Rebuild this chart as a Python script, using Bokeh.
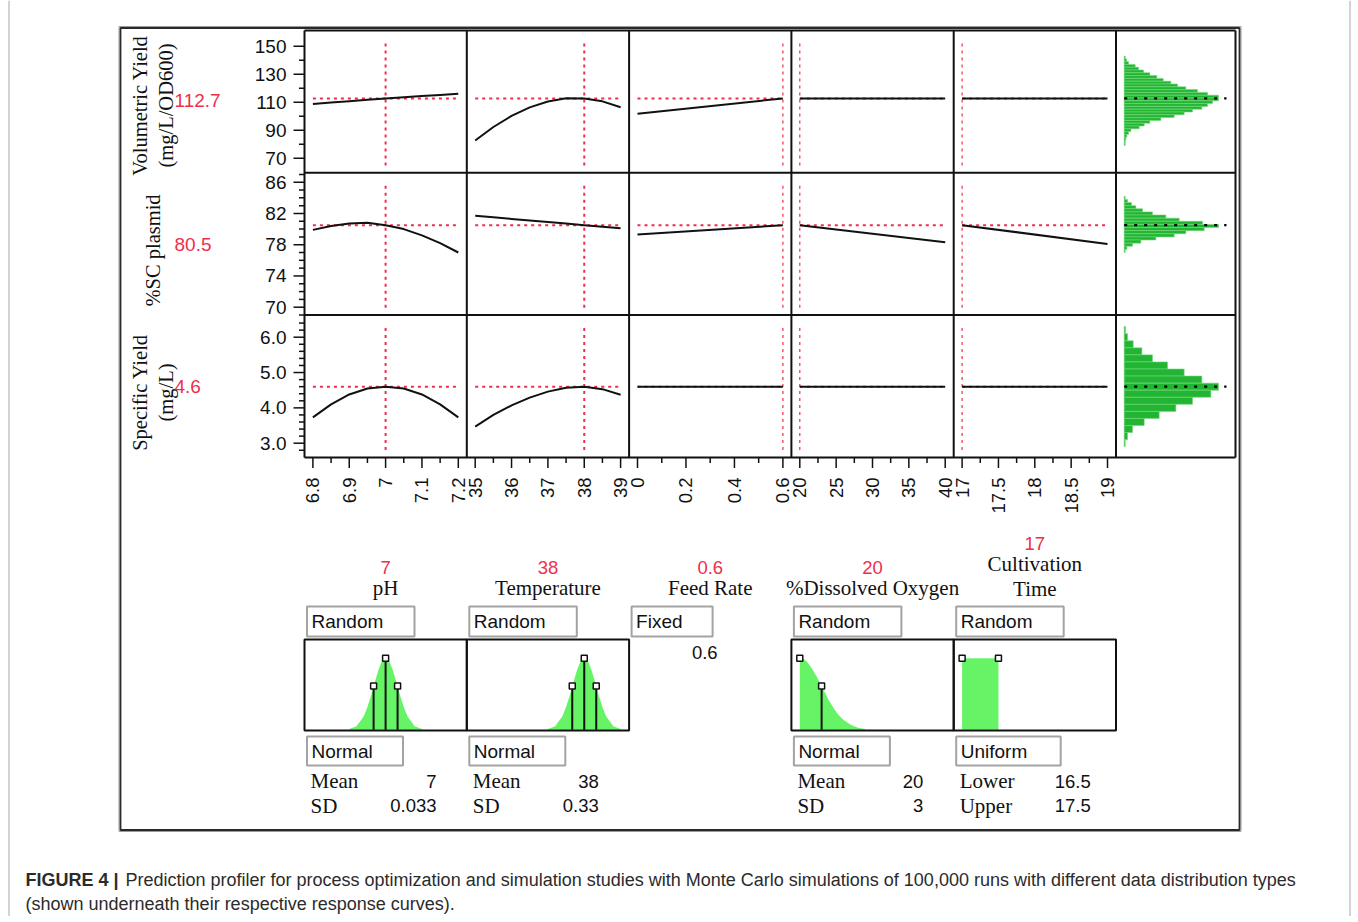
import math
from bokeh.plotting import figure
from bokeh.models import Range1d
from bokeh.core.properties import value
from bokeh.embed import file_html
from bokeh.resources import INLINE

# ------------------------------------------------------------------ data
factor_names = [["pH"], ["Temperature"], ["Feed Rate"], ["%Dissolved Oxygen"], ["Cultivation", "Time"]]
factor_current = [7, 38, 0.6, 20, 17]
factor_current_text = ["7", "38", "0.6", "20", "17"]
factor_low = [6.8, 35, 0, 20, 17]
factor_high = [7.2, 39, 0.6, 40, 19]

response_names = [["Volumetric Yield", "(mg/L/OD600)"], ["%SC plasmid"], ["Specific Yield", "(mg/L)"]]
predicted = [112.7, 80.5, 4.6]
predicted_text = ["112.7", "80.5", "4.6"]

x_major = [[6.8, 6.9, 7.0, 7.1, 7.2], [35, 36, 37, 38, 39], [0, 0.2, 0.4, 0.6],
           [20, 25, 30, 35, 40], [17, 17.5, 18, 18.5, 19]]
x_major_text = [["6.8", "6.9", "7", "7.1", "7.2"], ["35", "36", "37", "38", "39"],
                ["0", "0.2", "0.4", "0.6"], ["20", "25", "30", "35", "40"],
                ["17", "17.5", "18", "18.5", "19"]]
x_minor = [[6.85, 6.95, 7.05, 7.15], [35.5, 36.5, 37.5, 38.5], [0.1, 0.3, 0.5],
           [22.5, 27.5, 32.5, 37.5], [17.25, 17.75, 18.25, 18.75]]

y_major = [[70, 90, 110, 130, 150], [70, 74, 78, 82, 86], [3.0, 4.0, 5.0, 6.0]]
y_major_text = [["70", "90", "110", "130", "150"], ["70", "74", "78", "82", "86"],
                ["3.0", "4.0", "5.0", "6.0"]]
y_minor = [[80, 100, 120, 140],
           [69, 71, 72, 73, 75, 76, 77, 79, 80, 81, 83, 84, 85, 87],
           [2.8, 3.2, 3.4, 3.6, 3.8, 4.2, 4.4, 4.6, 4.8, 5.2, 5.4, 5.6, 5.8, 6.2, 6.4]]

# profile curves (response vs factor)
ph_x = [6.8, 6.85, 6.9, 6.95, 7.0, 7.05, 7.1, 7.15, 7.2]
ph_vol = [108.7, 109.7, 110.7, 111.7, 112.7, 113.6, 114.4, 115.2, 116.0]
ph_sc = [79.9, 80.4, 80.7, 80.8, 80.5, 80.0, 79.2, 78.2, 77.0]
ph_spec = [3.73, 4.10, 4.38, 4.55, 4.60, 4.55, 4.38, 4.10, 3.73]

temp_x = [35, 35.5, 36, 36.5, 37, 37.5, 38, 38.5, 39]
temp_vol = [82.6, 92.3, 100.2, 106.3, 110.5, 112.8, 112.7, 110.6, 106.4]
temp_sc = [81.7, 81.5, 81.3, 81.1, 80.9, 80.7, 80.5, 80.3, 80.1]
temp_spec = [3.47, 3.80, 4.07, 4.29, 4.46, 4.57, 4.60, 4.53, 4.37]

feed_x = [0, 0.6]
feed_vol = [101.8, 112.7]
feed_sc = [79.3, 80.5]
feed_spec = [4.6, 4.6]

do_x = [20, 40]
do_vol = [112.7, 112.7]
do_sc = [80.5, 78.3]
do_spec = [4.6, 4.6]

time_x = [17, 19]
time_vol = [112.7, 112.7]
time_sc = [80.5, 78.1]
time_spec = [4.6, 4.6]

# simulated response histograms (bin centre, relative count)
vol_bins = [142, 140, 138, 136, 134, 132, 130, 128, 126, 124, 122, 120, 118, 116, 114, 112,
            110, 108, 106, 104, 102, 100, 98, 96, 94, 92, 90, 88, 86, 84, 82, 80]
vol_counts = [3, 7, 13, 33, 43, 58, 77, 98, 117, 140, 160, 185, 220, 250, 283, 283,
              265, 250, 233, 205, 180, 150, 110, 77, 60, 45, 20, 13, 8, 5, 3, 3]
sc_bins = [84.0, 83.6, 83.2, 82.8, 82.4, 82.0, 81.6, 81.2, 80.8, 80.4, 80.0, 79.6, 79.2,
           78.8, 78.4, 78.0, 77.6, 77.2]
sc_counts = [3, 10, 22, 35, 55, 85, 125, 165, 235, 283, 240, 185, 150, 95, 50, 25, 8, 3]
spec_bins = [6.2, 6.0, 5.8, 5.6, 5.4, 5.2, 5.0, 4.8, 4.6, 4.4, 4.2, 4.0, 3.8, 3.6, 3.4, 3.2, 3.0]
spec_counts = [4, 10, 27, 53, 85, 130, 180, 233, 283, 260, 205, 155, 105, 60, 25, 10, 3]
hist_bin_width = [2, 0.4, 0.2]

# factor input distributions (x, relative density)
ph_dist_x = [6.90, 6.92, 6.94, 6.95, 6.96, 6.97, 6.98, 6.99, 7.00, 7.01, 7.02, 7.03, 7.04,
             7.05, 7.06, 7.08, 7.10]
ph_dist_h = [0.01, 0.05, 0.19, 0.32, 0.48, 0.66, 0.83, 0.96, 1.00, 0.96, 0.83, 0.66, 0.48,
             0.32, 0.19, 0.05, 0.01]
ph_marks_x = [6.967, 7.0, 7.033]
ph_marks_h = [0.61, 1.0, 0.61]

temp_dist_x = [37.0, 37.2, 37.4, 37.5, 37.6, 37.7, 37.8, 37.9, 38.0, 38.1, 38.2, 38.3, 38.4,
               38.5, 38.6, 38.8, 39.0]
temp_dist_h = [0.01, 0.05, 0.19, 0.32, 0.48, 0.66, 0.83, 0.96, 1.00, 0.96, 0.83, 0.66, 0.48,
               0.32, 0.19, 0.05, 0.01]
temp_marks_x = [37.67, 38.0, 38.33]
temp_marks_h = [0.61, 1.0, 0.61]

do_dist_x = [20, 20.5, 21, 21.5, 22, 22.5, 23, 23.5, 24, 24.5, 25, 25.5, 26, 27, 28, 29]
do_dist_h = [1.0, 0.99, 0.95, 0.88, 0.80, 0.71, 0.61, 0.51, 0.41, 0.33, 0.25, 0.19, 0.14,
             0.07, 0.03, 0.01]
do_marks_x = [20, 23]
do_marks_h = [1.0, 0.61]

time_lower = 16.5
time_upper = 17.5

sim_mode = ["Random", "Random", "Fixed", "Random", "Random"]
dist_type = ["Normal", "Normal", "", "Normal", "Uniform"]
param_names = [["Mean", "SD"], ["Mean", "SD"], [], ["Mean", "SD"], ["Lower", "Upper"]]
param_values = [["7", "0.033"], ["38", "0.33"], [], ["20", "3"], ["16.5", "17.5"]]

caption_bold = "FIGURE 4 |"
caption_1 = ("Prediction profiler for process optimization and simulation studies with Monte "
             "Carlo simulations of 100,000 runs with different data distribution types")
caption_2 = "(shown underneath their respective response curves)."

# ------------------------------------------------------------------ layout / style
W, H = 1352, 916
SANS = value("Liberation Sans")
SERIF = value("Liberation Serif")
RED = "#ee2f4b"
GREEN_H = "#22b533"
GREEN_D = "#66f466"
INK = "#111111"

COL_L = [304, 466.3, 628.6, 790.9, 953.2]
COL_W = 162.3
HIST_R = 1235
ROW_T = [30, 172.2, 314.5]
ROW_B = [172.2, 314.5, 457]
ROW_ANCHOR = [(70, 157.7, 150, 45.7), (70, 306.7, 86, 181.7), (3.0, 442.7, 6.0, 336.7)]

p = figure(width=W, height=H, x_range=Range1d(0, W), y_range=Range1d(H, 0),
           output_backend="svg", toolbar_location=None, x_axis_type=None,
           y_axis_type=None, min_border=0, title=None)
p.outline_line_color = None
p.background_fill_color = "white"
p.border_fill_color = "white"


def add_xr(name, v0, px0, v1, px1):
    k = (px1 - px0) / (v1 - v0)
    s = v0 - px0 / k
    p.extra_x_ranges[name] = Range1d(s, s + W / k)


def add_yr(name, v0, py0, v1, py1):
    k = (py0 - py1) / (v1 - v0)
    s = v0 - (H - py0) / k
    p.extra_y_ranges[name] = Range1d(s, s + H / k)


for ci in range(5):
    add_xr(f"x{ci}", factor_low[ci], COL_L[ci] + 8.4, factor_high[ci], COL_L[ci] + 153.8)
for ri in range(3):
    v0, py0, v1, py1 = ROW_ANCHOR[ri]
    add_yr(f"y{ri}", v0, py0, v1, py1)
add_xr("hx", 0, 1123.7, 283, 1218)
add_yr("yd", 0, 729.3, 1, 657.7)

# outer page frame
p.segment(x0=[8.5, 1349.5], x1=[8.5, 1349.5], y0=0, y1=H, line_color="#c4c4c4", line_width=1.5)
# chart frame
p.quad(left=118.5, right=1240.5, top=26, bottom=831, fill_color=None, line_color="#9a9a9a", line_width=1)
p.quad(left=120, right=1239, top=27.5, bottom=829.5, fill_color=None, line_color="#2a2a2a", line_width=1.8)

# ---- profiler grid
profiles = {
    (0, 0): (ph_x, ph_vol), (0, 1): (ph_x, ph_sc), (0, 2): (ph_x, ph_spec),
    (1, 0): (temp_x, temp_vol), (1, 1): (temp_x, temp_sc), (1, 2): (temp_x, temp_spec),
    (2, 0): (feed_x, feed_vol), (2, 1): (feed_x, feed_sc), (2, 2): (feed_x, feed_spec),
    (3, 0): (do_x, do_vol), (3, 1): (do_x, do_sc), (3, 2): (do_x, do_spec),
    (4, 0): (time_x, time_vol), (4, 1): (time_x, time_sc), (4, 2): (time_x, time_spec),
}

for ri in range(3):
    yn = f"y{ri}"
    for ci in range(5):
        xn = f"x{ci}"
        vw = 2 if ci < 2 else 1.2
        p.segment(x0=factor_current[ci], x1=factor_current[ci], y0=ROW_T[ri] + 13, y1=ROW_B[ri] - 7,
                  x_range_name=xn, line_color=RED, line_width=vw, line_dash="3 4")
        p.segment(x0=factor_low[ci], x1=factor_high[ci], y0=predicted[ri], y1=predicted[ri],
                  x_range_name=xn, y_range_name=yn, line_color=RED, line_width=2, line_dash="3 4")
        xs, ys = profiles[(ci, ri)]
        p.line(xs, ys, x_range_name=xn, y_range_name=yn, line_color=INK, line_width=2)

# histograms
hists = [(vol_bins, vol_counts), (sc_bins, sc_counts), (spec_bins, spec_counts)]
for ri in range(3):
    yn = f"y{ri}"
    b, c = hists[ri]
    p.hbar(y=b, height=hist_bin_width[ri], left=0, right=c, x_range_name="hx", y_range_name=yn,
           fill_color=GREEN_H, line_color="#74d97a", line_width=0.6)
    p.segment(x0=1123.7, x1=1226, y0=predicted[ri], y1=predicted[ri], y_range_name=yn,
              line_color="black", line_width=2.2, line_dash="3 7")

# grid lines
p.segment(x0=304, x1=HIST_R, y0=[30, 172.2, 314.5, 457], y1=[30, 172.2, 314.5, 457],
          line_color=INK, line_width=2)
vx = COL_L + [COL_L[4] + COL_W, HIST_R]
p.segment(x0=vx, x1=vx, y0=30, y1=457, line_color=INK, line_width=2)

# y axes
for ri in range(3):
    yn = f"y{ri}"
    p.segment(x0=293, x1=304, y0=y_major[ri], y1=y_major[ri], y_range_name=yn,
              line_color=INK, line_width=1.5)
    p.segment(x0=298.5, x1=304, y0=y_minor[ri], y1=y_minor[ri], y_range_name=yn,
              line_color=INK, line_width=1.5)
    p.text(x=286, y=y_major[ri], text=y_major_text[ri], y_range_name=yn,
           text_align="right", text_baseline="middle", text_font=SANS,
           text_font_size="19px", text_color=INK)

# x axes
for ci in range(5):
    xn = f"x{ci}"
    p.segment(x0=x_major[ci], x1=x_major[ci], y0=457, y1=467.5, x_range_name=xn,
              line_color=INK, line_width=1.5)
    p.segment(x0=x_minor[ci], x1=x_minor[ci], y0=457, y1=462.5, x_range_name=xn,
              line_color=INK, line_width=1.5)
    p.text(x=x_major[ci], y=477, text=x_major_text[ci], x_range_name=xn, angle=math.pi / 2,
           text_align="right", text_baseline="middle", text_font=SANS,
           text_font_size="18.5px", text_color=INK)

# response titles
ROW_TITLE_Y = [105, 250, 392]
for ri in range(3):
    lines = response_names[ri]
    xs = [139, 165] if len(lines) == 2 else [152]
    p.text(x=xs, y=ROW_TITLE_Y[ri], text=lines, angle=math.pi / 2, text_align="center",
           text_baseline="middle", text_font=SERIF, text_font_size="20.5px", text_color=INK)
p.text(x=174, y=[100, 244, 386], text=predicted_text, text_align="left",
       text_baseline="middle", text_font=SANS, text_font_size="19px", text_color=RED)

# ---- factor headers
for ci in range(5):
    cx = COL_L[ci] + COL_W / 2
    lines = factor_names[ci]
    if len(lines) == 2:
        ly = [563, 588]
        ry = 543
    else:
        ly = [587]
        ry = 567
    p.text(x=cx, y=ly, text=lines, text_align="center", text_baseline="middle",
           text_font=SERIF, text_font_size="21px", text_color=INK)
    p.text(x=cx, y=ry, text=[factor_current_text[ci]], text_align="center",
           text_baseline="middle", text_font=SANS, text_font_size="18.5px", text_color=RED)

BOX_W = {"Random": 107.5, "Fixed": 81, "Normal": 96, "Uniform": 104.5}
for ci in range(5):
    cl = COL_L[ci]
    m = sim_mode[ci]
    p.quad(left=cl + 2.5, right=cl + 2.5 + BOX_W[m], top=606, bottom=636, fill_color="white",
           line_color="#a3a3a3", line_width=2)
    p.text(x=cl + 7, y=621, text=[m], text_align="left", text_baseline="middle",
           text_font=SANS, text_font_size="19px", text_color=INK)
    d = dist_type[ci]
    if not d:
        p.text(x=cl + 88.5, y=652, text=[factor_current_text[ci]], text_align="right",
               text_baseline="middle", text_font=SANS, text_font_size="18.5px", text_color=INK)
        continue
    p.quad(left=cl + 2.5, right=cl + 2.5 + BOX_W[d], top=736, bottom=765, fill_color="white",
           line_color="#a3a3a3", line_width=2)
    p.text(x=cl + 7, y=751, text=[d], text_align="left", text_baseline="middle",
           text_font=SANS, text_font_size="19px", text_color=INK)
    p.text(x=cl + 6, y=[780, 805], text=param_names[ci], text_align="left",
           text_baseline="middle", text_font=SERIF, text_font_size="21px", text_color=INK)
    vr = cl + (132 if d == "Normal" else 137)
    p.text(x=vr, y=[781, 805], text=param_values[ci], text_align="right",
           text_baseline="middle", text_font=SANS, text_font_size="18.5px", text_color=INK)

# distribution panels
dists = {0: (ph_dist_x, ph_dist_h, ph_marks_x, ph_marks_h),
         1: (temp_dist_x, temp_dist_h, temp_marks_x, temp_marks_h),
         3: (do_dist_x, do_dist_h, do_marks_x, do_marks_h)}
for ci, (dx, dh, mx, mh) in dists.items():
    xn = f"x{ci}"
    p.varea(x=dx, y1=0, y2=dh, x_range_name=xn, y_range_name="yd", fill_color=GREEN_D)
    lx = mx if ci != 3 else mx[1:]
    lh = mh if ci != 3 else mh[1:]
    p.segment(x0=lx, x1=lx, y0=0, y1=lh, x_range_name=xn, y_range_name="yd",
              line_color=INK, line_width=2)
    p.scatter(x=mx, y=mh, marker="square", size=6, x_range_name=xn, y_range_name="yd",
              fill_color="white", line_color=INK, line_width=1.5)
# uniform (clipped to factor range)
p.quad(left=max(time_lower, factor_low[4]), right=time_upper, bottom=0, top=1.0,
       x_range_name="x4", y_range_name="yd", fill_color=GREEN_D, line_color=None)
p.scatter(x=[max(time_lower, factor_low[4]), time_upper], y=[1.0, 1.0], marker="square", size=6,
          x_range_name="x4", y_range_name="yd", fill_color="white", line_color=INK, line_width=1.5)
for ci in (0, 1, 3, 4):
    p.quad(left=COL_L[ci], right=COL_L[ci] + COL_W, top=639, bottom=730, fill_color=None,
           line_color=INK, line_width=2)

# caption
p.text(x=25, y=879, text=[caption_bold], text_align="left", text_baseline="middle",
       text_font=SANS, text_font_style="bold", text_font_size="18px", text_color="#2b2b2b")
p.text(x=125, y=879, text=[caption_1], text_align="left", text_baseline="middle",
       text_font=SANS, text_font_size="18px", text_color="#2b2b2b")
p.text(x=25, y=903, text=[caption_2], text_align="left", text_baseline="middle",
       text_font=SANS, text_font_size="18px", text_color="#2b2b2b")

open("out.html", "w").write(file_html(p, INLINE))
